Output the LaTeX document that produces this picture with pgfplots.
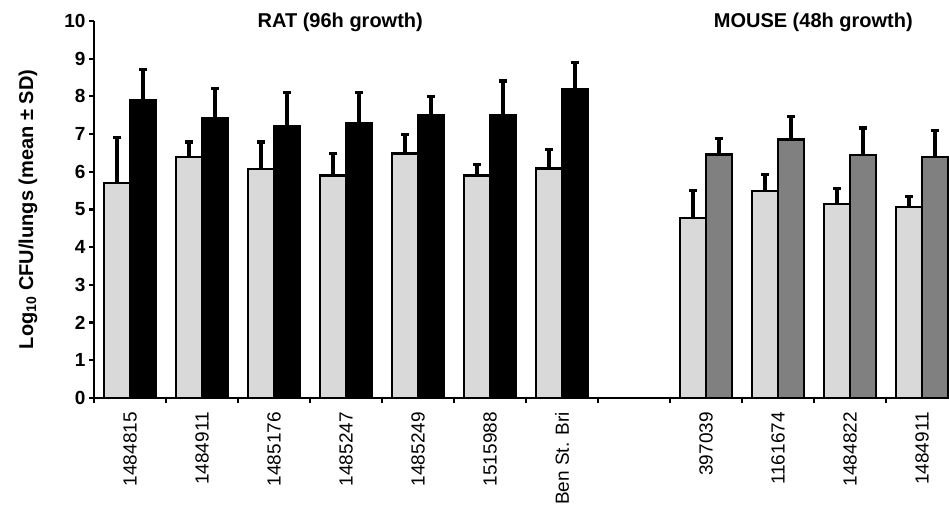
\documentclass[border=0pt]{standalone}
\usepackage{pgfplots}
\pgfplotsset{compat=1.18}
\usepackage{fontspec}
\setmainfont{Liberation Sans}
\definecolor{lightbar}{HTML}{D9D9D9}
\definecolor{darkbar}{HTML}{808080}
\pgfplotsset{
  mybar/.style={ybar, bar width=26bp, bar shift=#1, draw=black, line width=2.4bp,
    error bars/.cd, y dir=plus, y explicit, error mark=-,
    error bar style={line width=3.2bp, black, xshift=#1},
    error mark options={rotate=90, line width=3.2bp, mark size=4bp, black},
    /pgfplots/.cd},
}
\begin{document}
\begin{tikzpicture}[x=1bp,y=1bp]
\useasboundingbox (-94,-109) rectangle (855,398);
\begin{axis}[
  at={(0,0)}, anchor=south west,
  scale only axis, width=855bp, height=377bp,
  xmin=-0.5, xmax=11.375, ymin=0, ymax=10,
  clip=false,
  axis lines=left,
  axis line style={line width=2.8bp, -},
  tick style={line width=2.2bp, black},
  major tick length=5bp,
  tick align=outside,
  ytick={0,1,...,10},
  xtick={-0.5,0.5,...,10.5},
  xticklabels={1484815,1484911,1485176,1485247,1485249,1515988,Ben St. Bri,{},397039,1161674,1484822,1484911},
  x tick label style={xshift=36bp, yshift=-7bp, rotate=90, anchor=east, font=\fontsize{19bp}{22bp}\selectfont, inner sep=2bp},
  y tick label style={font=\fontsize{19bp}{22bp}\selectfont\bfseries},
  /pgf/number format/assume math mode=true,
  ylabel={\textbf{Log\textsubscript{10} CFU/lungs (mean ± SD)}},
  every axis y label/.style={at={(axis description cs:0,0.5)}, xshift=-66bp, rotate=90, anchor=center, font=\fontsize{20bp}{24bp}\selectfont},
]
% rat light
\addplot[mybar=-13bp, fill=lightbar]
coordinates {
(0,5.70) +- (0,1.22)
(1,6.40) +- (0,0.39)
(2,6.08) +- (0,0.71)
(3,5.90) +- (0,0.59)
(4,6.49) +- (0,0.50)
(5,5.90) +- (0,0.30)
(6,6.09) +- (0,0.51)
};
% rat dark (black)
\addplot[mybar=13bp, fill=black]
coordinates {
(0,7.91) +- (0,0.80)
(1,7.42) +- (0,0.78)
(2,7.21) +- (0,0.90)
(3,7.29) +- (0,0.82)
(4,7.51) +- (0,0.48)
(5,7.51) +- (0,0.90)
(6,8.20) +- (0,0.70)
};
% mouse light
\addplot[mybar=-13bp, fill=lightbar]
coordinates {
(8,4.77) +- (0,0.73)
(9,5.49) +- (0,0.43)
(10,5.14) +- (0,0.41)
(11,5.07) +- (0,0.28)
};
% mouse dark (grey)
\addplot[mybar=13bp, fill=darkbar]
coordinates {
(8,6.46) +- (0,0.42)
(9,6.86) +- (0,0.60)
(10,6.44) +- (0,0.72)
(11,6.40) +- (0,0.70)
};
\node[font=\fontsize{20bp}{24bp}\selectfont\bfseries] at (axis cs:2.92,9.97) {RAT (96h growth)};
\node[font=\fontsize{20bp}{24bp}\selectfont\bfseries] at (axis cs:9.49,9.97) {MOUSE (48h growth)};
\end{axis}
\end{tikzpicture}
\end{document}
